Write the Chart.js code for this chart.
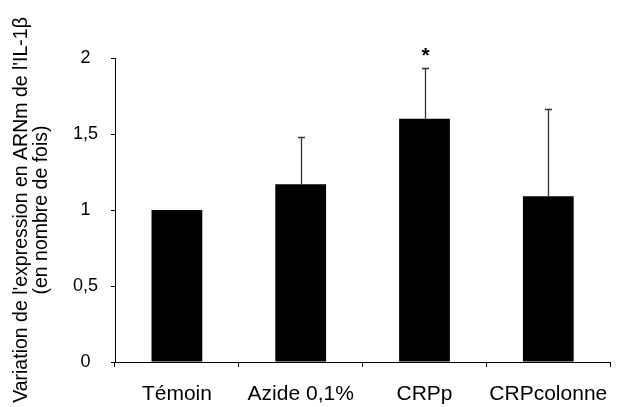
<!DOCTYPE html>
<html>
<head>
<meta charset="utf-8">
<script src="https://cdn.jsdelivr.net/npm/chart.js@4/dist/chart.umd.min.js"></script>
<style>
  html, body { margin: 0; padding: 0; background: #fff; }
  #wrap { width: 623px; height: 407px; }
</style>
</head>
<body>
<div id="wrap"><canvas id="c" width="623" height="407"></canvas></div>
<script>
const categories = ['Témoin', 'Azide 0,1%', 'CRPp', 'CRPcolonne'];
const values = [1.0, 1.17, 1.6, 1.09];
const errors = [0, 0.31, 0.335, 0.575];
const significance = ['', '', '*', ''];
const yTicks = [0, 0.5, 1, 1.5, 2];
const yTitle = ["Variation de l'expression en ARNm de l'IL-1β", '(en nombre de fois)'];

const errorBarPlugin = {
  id: 'errorBars',
  afterDatasetsDraw(chart) {
    const ctx = chart.ctx;
    const meta = chart.getDatasetMeta(0);
    const ys = chart.scales.y;
    ctx.save();
    meta.data.forEach((bar, i) => {
      const x = Math.round(bar.x) + 0.5;
      const yTop = ys.getPixelForValue(values[i]);
      const yErr = ys.getPixelForValue(values[i] + errors[i]);
      if (errors[i] > 0) {
        ctx.strokeStyle = '#333';
        ctx.lineWidth = 1.3;
        ctx.beginPath();
        ctx.moveTo(x, yTop);
        ctx.lineTo(x, Math.round(yErr) + 0.5);
        ctx.moveTo(x - 3.5, Math.round(yErr) + 0.5);
        ctx.lineTo(x + 3.5, Math.round(yErr) + 0.5);
        ctx.stroke();
      }
      if (significance[i]) {
        ctx.fillStyle = '#000';
        ctx.font = 'bold 21px "Liberation Sans", Arial, sans-serif';
        ctx.textAlign = 'center';
        ctx.textBaseline = 'alphabetic';
        ctx.fillText(significance[i], x, yErr - 6);
      }
    });
    ctx.restore();
  }
};

new Chart(document.getElementById('c'), {
  type: 'bar',
  data: {
    labels: categories,
    datasets: [{
      data: values,
      backgroundColor: '#000',
      borderColor: '#222',
      borderWidth: 0,
      categoryPercentage: 1.0,
      barPercentage: 0.41
    }]
  },
  options: {
    responsive: false,
    animation: false,
    devicePixelRatio: 1,
    layout: { padding: { top: 58, right: 6, left: 0, bottom: 0 } },
    plugins: { legend: { display: false }, tooltip: { enabled: false } },
    scales: {
      x: {
        grid: { offset: true, drawOnChartArea: false, drawTicks: true, tickLength: 5, color: '#000', lineWidth: 1 },
        border: { display: true, color: '#000', width: 1 },
        ticks: { color: '#000', font: { family: '"Liberation Sans", Arial, sans-serif', size: 21 }, padding: 15, maxRotation: 0, autoSkip: false },
        afterFit(scale) { scale.height = 45; }
      },
      y: {
        min: 0, max: 2,
        afterBuildTicks(scale) { scale.ticks = yTicks.map(v => ({ value: v })); },
        grid: { drawOnChartArea: false, drawTicks: true, tickLength: 4, color: '#000', lineWidth: 1 },
        border: { display: true, color: '#000', width: 1 },
        ticks: {
          color: '#000',
          font: { family: '"Liberation Sans", Arial, sans-serif', size: 18 },
          padding: 13,
          crossAlign: 'center',
          callback: v => String(v).replace('.', ',')
        },
        title: {
          display: true,
          text: yTitle,
          color: '#000',
          font: { family: '"Liberation Sans", Arial, sans-serif', size: 19.5, lineHeight: 1.0 },
          padding: { top: 12, bottom: 0 }
        },
        afterFit(scale) { scale.width = 115; }
      }
    }
  },
  plugins: [errorBarPlugin]
});
</script>
</body>
</html>
